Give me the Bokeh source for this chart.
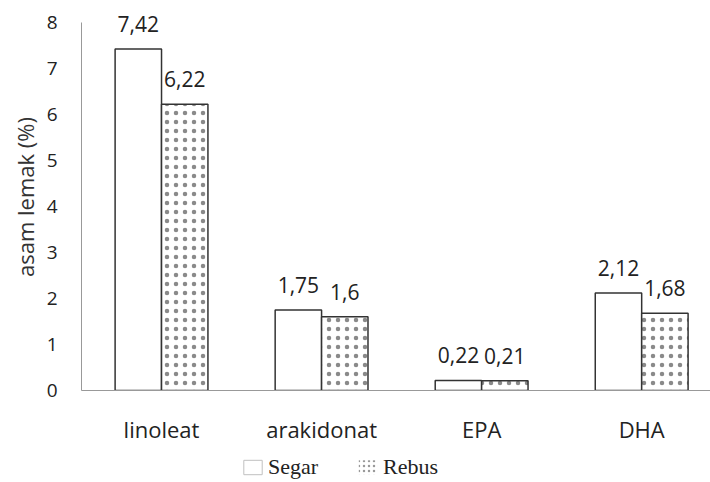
from bokeh.plotting import figure
from bokeh.layouts import column
from bokeh.models import (ColumnDataSource, Legend, LegendItem, FixedTicker, Range1d, LabelSet)
from bokeh.core.properties import value
from bokeh.embed import file_html
from bokeh.resources import INLINE

categories = ["linoleat", "arakidonat", "EPA", "DHA"]
segar = [7.42, 1.75, 0.22, 2.12]
rebus = [6.22, 1.6, 0.21, 1.68]
segar_labels = ["7,42", "1,75", "0,22", "2,12"]
rebus_labels = ["6,22", "1,6", "0,21", "1,68"]
y_ticks = [0, 1, 2, 3, 4, 5, 6, 7, 8]

centers = [i + 0.5 for i in range(len(categories))]
bw = 0.29
xs_seg = [c - bw / 2 for c in centers]
xs_reb = [c + bw / 2 for c in centers]

p = figure(width=710, height=446, output_backend="svg", toolbar_location=None,
           x_range=Range1d(0, 3.93), y_range=Range1d(0, 8.41))
p.min_border_left = 81
p.min_border_top = 3
p.min_border_bottom = 52
p.min_border_right = 0
p.outline_line_color = None
p.xgrid.visible = False
p.ygrid.visible = False

src_s = ColumnDataSource(dict(x=xs_seg, top=segar, lab=segar_labels))
src_r = ColumnDataSource(dict(x=xs_reb, top=rebus, lab=rebus_labels))

p.vbar(x="x", top="top", width=bw, source=src_s, fill_color="white",
       line_color="#333333", line_width=1.5)
p.vbar(x="x", top="top", width=bw, source=src_r, fill_color="white",
       line_color="#333333", line_width=1.5,
       hatch_pattern="dot", hatch_color="#8a8a8a", hatch_scale=9, hatch_weight=0.5)

for src in (src_s, src_r):
    p.add_layout(LabelSet(x="x", y="top", text="lab", source=src, text_align="center",
                          text_baseline="bottom", y_offset=17, text_font=value("Open Sans"),
                          text_font_size="21px", text_color="#222222"))

# axes
p.yaxis.ticker = FixedTicker(ticks=y_ticks)
p.yaxis.bounds = (0, 8)
p.yaxis.major_tick_line_color = None
p.yaxis.major_tick_out = 0
p.yaxis.major_tick_in = 0
p.yaxis.minor_tick_line_color = None
p.yaxis.axis_line_color = "#999999"
p.yaxis.major_label_standoff = 24
p.yaxis.major_label_text_font = "Open Sans"
p.yaxis.major_label_text_font_size = "19px"
p.yaxis.major_label_text_font_style = "normal"
p.yaxis.major_label_text_color = "#222222"
p.yaxis.axis_label = "asam lemak (%)"
p.yaxis.axis_label_text_font = "Open Sans"
p.yaxis.axis_label_text_font_size = "22px"
p.yaxis.axis_label_text_font_style = "normal"
p.yaxis.axis_label_text_color = "#333333"
p.yaxis.axis_label_standoff = 4

p.xaxis.ticker = FixedTicker(ticks=centers)
p.xaxis.major_label_overrides = {c: n for c, n in zip(centers, categories)}
p.xaxis.major_tick_line_color = None
p.xaxis.major_tick_out = 0
p.xaxis.major_tick_in = 0
p.xaxis.minor_tick_line_color = None
p.xaxis.axis_line_color = "#999999"
p.xaxis.major_label_standoff = 23
p.xaxis.major_label_text_font = "Open Sans"
p.xaxis.major_label_text_font_size = "22px"
p.xaxis.major_label_text_color = "#222222"

# legend figure
q = figure(width=710, height=36, output_backend="svg", toolbar_location=None,
           x_range=Range1d(0, 1), y_range=Range1d(0, 1))
q.min_border = 0
q.axis.visible = False
q.grid.visible = False
q.outline_line_color = None
leg_s = q.rect(x=[-5], y=[-5], width=1, height=1, fill_color="white", line_color="#c0c0c0")
leg_r = q.rect(x=[-5], y=[-5], width=1, height=1, fill_color="white", line_color=None,
               hatch_pattern="dot", hatch_color="#9a9a9a", hatch_scale=5, hatch_weight=0.4)

legend = Legend(items=[LegendItem(label="Segar", renderers=[leg_s]),
                       LegendItem(label="Rebus", renderers=[leg_r])],
                orientation="horizontal", location=(160, 2),
                label_text_font="Liberation Serif", label_text_font_size="22px",
                label_text_color="#222222", glyph_width=23, glyph_height=18,
                spacing=38, label_standoff=4, padding=0, margin=0,
                border_line_color=None, background_fill_alpha=0)
q.add_layout(legend, "center")

open("out.html", "w").write(file_html(column(p, q, spacing=0), INLINE))
